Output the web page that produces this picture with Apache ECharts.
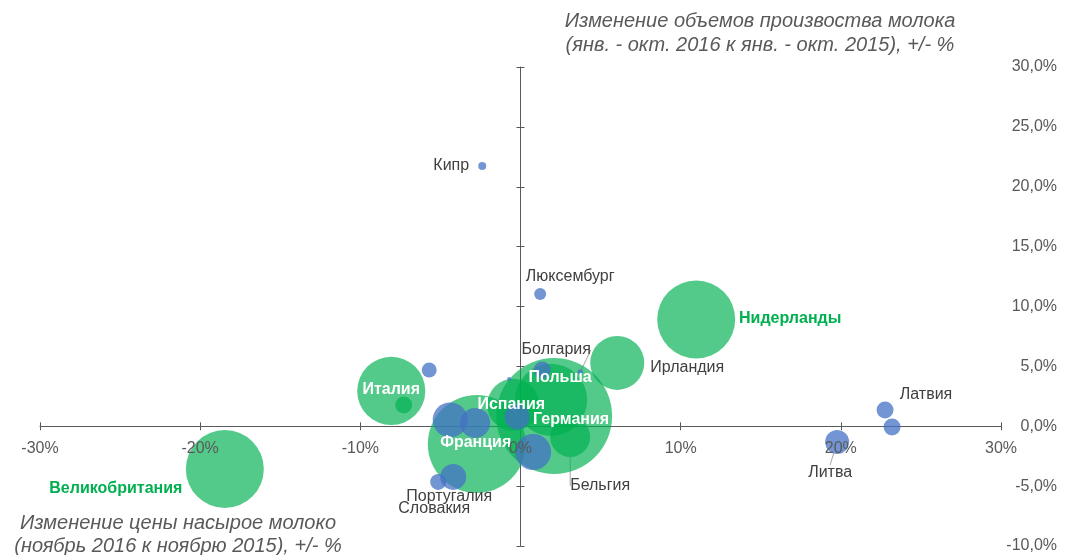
<!DOCTYPE html>
<html>
<head>
<meta charset="utf-8">
<script src="https://cdn.jsdelivr.net/npm/echarts@6/dist/echarts.min.js"></script>
<style>
  html, body { margin: 0; padding: 0; background: #ffffff; }
  #chart { width: 1073px; height: 555px; }
</style>
</head>
<body>
<div id="chart"></div>
<script>
// Axis ticks and their labels
const xTickValues = [-30, -20, -10, 0, 10, 20, 30];
const xTickLabels = ['-30%', '-20%', '-10%', '0%', '10%', '20%', '30%'];
const yTickValues = [-10, -5, 0, 5, 10, 15, 20, 25, 30];
const yTickLabels = ['-10,0%', '-5,0%', '0,0%', '5,0%', '10,0%', '15,0%', '20,0%', '25,0%', '30,0%'];

// Largest producers (green): price change %, output change %, milk volume (mln t)
const majorNames  = ['Великобритания', 'Нидерланды', 'Ирландия', 'Италия', 'Франция', 'Германия', 'Польша', 'Испания', 'Бельгия', ''];
const majorPrice  = [-18.46, 10.97, 6.04, -8.07, -2.73, 2.10, 1.91, -0.45, 3.10, -7.29];
const majorOutput = [-3.57, 8.92, 5.29, 2.95, -1.48, 0.86, 2.20, 1.78, -0.89, 1.78];
const majorVolume = [15.2, 15.2, 7.3, 11.6, 24.0, 33.6, 13.0, 6.8, 4.0, 0.72];

// Other countries (blue)
const otherNames  = ['Кипр', 'Люксембург', 'Латвия', '', 'Литва', '', '', '', '', '', '', '', 'Португалия', 'Словакия', 'Болгария'];
const otherPrice  = [-2.39, 1.23, 22.76, 23.20, 19.77, -5.70, -0.71, 1.35, -4.39, -2.83, -0.21, 0.79, -4.20, -5.14, 3.73];
const otherOutput = [21.74, 11.05, 1.36, -0.06, -1.31, 4.70, 3.95, 4.70, 0.53, 0.28, 0.78, -2.15, -4.23, -4.65, 4.53];
const otherVolume = [0.16, 0.36, 0.72, 0.72, 1.44, 0.56, 0.04, 0.72, 3.06, 2.25, 1.56, 3.24, 1.69, 0.64, 0.07];

// Label placement relative to the bubble centre, px
const labelShift = {
  'Великобритания': [-109, 20], 'Нидерланды': [94, -1], 'Ирландия': [70, 5],
  'Италия': [0, -1], 'Франция': [-1, -1], 'Германия': [17, 4], 'Польша': [9, -22],
  'Испания': [-2, 0], 'Бельгия': [30, 49], 'Кипр': [-31, 0], 'Люксембург': [30, -17],
  'Латвия': [41, -15], 'Литва': [-7, 31], 'Португалия': [-4, 20], 'Словакия': [-4, 27],
  'Болгария': [-24, -22]
};
const withLeader = ['Бельгия', 'Литва', 'Болгария', 'Португалия'];
const boldGreen = ['Великобритания', 'Нидерланды'];
const boldWhite = ['Италия', 'Франция', 'Германия', 'Польша', 'Испания'];

const FONT = '"Liberation Sans", Arial, sans-serif';
const AXIS = '#595959';
const TEXT = '#404040';
const NONE = 'rgba(0,0,0,0)';

function items(names, xs, ys, vols) {
  return names.map(function (n, i) {
    const it = { name: n, value: [xs[i], ys[i], vols[i]] };
    if (boldGreen.indexOf(n) >= 0) it.label = { color: '#00b050', fontWeight: 'bold' };
    if (boldWhite.indexOf(n) >= 0) it.label = { color: '#ffffff', fontWeight: 'bold' };
    if (withLeader.indexOf(n) >= 0) {
      it.labelLine = { show: true };
      // wide side padding makes the leader attach to the top/bottom of the text
      it.label = { padding: [0, 20, 0, 20] };
    }
    return it;
  });
}

function layoutFor(names) {
  return function (p) {
    const s = labelShift[names[p.dataIndex]];
    if (!s) return {};
    return {
      x: p.rect.x + p.rect.width / 2 + s[0],
      y: p.rect.y + p.rect.height / 2 + s[1],
      align: 'center',
      verticalAlign: 'middle'
    };
  };
}

function bubbleSeries(names, xs, ys, vols, color) {
  return {
    type: 'scatter',
    xAxisIndex: 0,
    yAxisIndex: 0,
    symbol: 'circle',
    symbolSize: function (v) { return 20 * Math.sqrt(v[2]); },
    itemStyle: { color: color, borderWidth: 0, opacity: 1 },
    label: {
      show: true,
      position: 'inside',
      formatter: function (p) { return p.name; },
      fontFamily: FONT,
      fontSize: 16,
      color: TEXT,
      textBorderWidth: 0,
      textShadowBlur: 0
    },
    labelLine: { show: false, lineStyle: { color: '#a6a6a6', width: 1 } },
    labelLayout: layoutFor(names),
    emphasis: { disabled: true },
    silent: true,
    data: items(names, xs, ys, vols)
  };
}

const xBase = { type: 'value', min: -30, max: 30, interval: 10, splitLine: { show: false }, showMinLabel: true, showMaxLabel: true };
const yBase = { type: 'value', min: -10, max: 30, interval: 5, splitLine: { show: false }, showMinLabel: true, showMaxLabel: true };
const tickStyle = { color: AXIS, width: 1 };
const lineOn = { show: true, onZero: true, onZeroAxisIndex: 0, lineStyle: { color: AXIS, width: 1 } };
const lineHidden = { show: true, onZero: true, onZeroAxisIndex: 0, lineStyle: { color: NONE, width: 0 } };

const chart = echarts.init(document.getElementById('chart'), null, { renderer: 'canvas' });
chart.setOption({
  animation: false,
  backgroundColor: '#ffffff',
  title: [
    {
      text: 'Изменение объемов произвоства молока\n(янв. - окт. 2016 к янв. - окт. 2015), +/- %',
      left: 755, top: 4, textAlign: 'center',
      textStyle: { fontFamily: FONT, fontStyle: 'italic', fontWeight: 'normal', fontSize: 20, lineHeight: 24, color: AXIS }
    },
    {
      text: 'Изменение цены насырое молоко\n(ноябрь 2016 к ноябрю 2015), +/- %',
      left: 173, top: 507, textAlign: 'center',
      textStyle: { fontFamily: FONT, fontStyle: 'italic', fontWeight: 'normal', fontSize: 20, lineHeight: 23, color: AXIS }
    }
  ],
  grid: { left: 40, right: 72, top: 67, bottom: 9, containLabel: false, outerBoundsMode: 'none' },
  xAxis: [
    Object.assign({}, xBase, {
      position: 'bottom',
      axisLine: lineOn,
      axisTick: { show: true, inside: false, length: 4, lineStyle: tickStyle },
      axisLabel: { show: false }
    }),
    Object.assign({}, xBase, {
      position: 'top',
      axisLine: lineHidden,
      axisTick: { show: true, inside: false, length: 4, lineStyle: tickStyle },
      axisLabel: { show: false }
    }),
    // tick labels sit just under the zero line, drawn above the bubbles
    Object.assign({}, xBase, {
      position: 'bottom',
      z: 10,
      axisLine: { show: false, onZero: false },
      axisTick: { show: false },
      axisLabel: {
        show: true, margin: -105, fontFamily: FONT, fontSize: 16, color: AXIS,
        formatter: function (v) { return xTickLabels[xTickValues.indexOf(v)]; }
      }
    })
  ],
  yAxis: [
    Object.assign({}, yBase, {
      position: 'left',
      axisLine: lineOn,
      axisTick: { show: true, inside: false, length: 4, lineStyle: tickStyle },
      axisLabel: { show: false }
    }),
    Object.assign({}, yBase, {
      position: 'right',
      axisLine: lineHidden,
      axisTick: { show: true, inside: false, length: 4, lineStyle: tickStyle },
      axisLabel: { show: false }
    }),
    Object.assign({}, yBase, {
      position: 'right',
      axisLine: { show: false, onZero: false },
      axisTick: { show: false },
      axisLabel: {
        show: true, margin: 56, align: 'right', fontFamily: FONT, fontSize: 16, color: AXIS,
        formatter: function (v) { return yTickLabels[yTickValues.indexOf(v)]; }
      }
    })
  ],
  series: [
    bubbleSeries(majorNames, majorPrice, majorOutput, majorVolume, 'rgba(0,176,80,0.67)'),
    bubbleSeries(otherNames, otherPrice, otherOutput, otherVolume, 'rgba(68,114,196,0.75)')
  ]
});
</script>
</body>
</html>
